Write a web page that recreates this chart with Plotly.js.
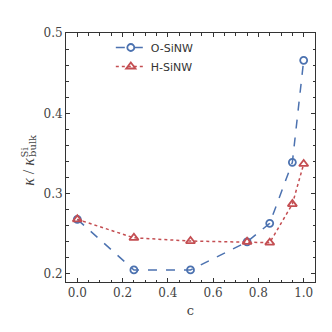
<!DOCTYPE html>
<html>
<head>
<meta charset="utf-8">
<script src="https://cdn.plot.ly/plotly-3.0.1.min.js"></script>
<style>
body { margin: 0; padding: 0; background: #fff; }
#grafico { width: 332px; height: 332px; }
</style>
</head>
<body>
<div id="grafico"></div>
<script>
var fraccion = [0.0, 0.25, 0.5, 0.75, 0.85, 0.95, 1.0];
var kappaO = [0.268, 0.205, 0.205, 0.240, 0.263, 0.339, 0.466];
var kappaH = [0.268, 0.245, 0.241, 0.240, 0.239, 0.287, 0.337];
var nombres = ["O-SiNW", "H-SiNW"];

var azul = "#4C72B0";
var rojo = "#C44E52";
var serif = "DejaVu Serif, Liberation Serif, serif";

var data = [{
	x: fraccion,
	y: kappaO,
	name: nombres[0],
	type: "scatter",
	mode: "lines+markers",
	line: { color: azul, width: 1.5, dash: "dash" },
	marker: { symbol: "circle-open", size: 7, color: azul, line: { width: 1.8, color: azul } }
}, {
	x: fraccion,
	y: kappaH,
	name: nombres[1],
	type: "scatter",
	mode: "lines+markers",
	line: { color: rojo, width: 1.5, dash: "dot" },
	marker: { symbol: "triangle-up-open", size: 8, color: rojo, line: { width: 1.8, color: rojo } }
}];

var ejeComun = {
	showgrid: false,
	zeroline: false,
	showline: true,
	linecolor: "#333",
	linewidth: 1,
	mirror: "allticks",
	ticks: "inside",
	ticklen: 4,
	tickwidth: 1,
	tickcolor: "#333",
	tickfont: { family: serif, size: 12, color: "#444" }
};

var layout = {
	width: 332,
	height: 332,
	margin: { l: 66, r: 17, t: 33, b: 50 },
	paper_bgcolor: "#fff",
	plot_bgcolor: "#fff",
	showlegend: true,
	legend: {
		x: 0.18, y: 1.0, xanchor: "left", yanchor: "top",
		bgcolor: "rgba(255,255,255,0)",
		font: { family: "DejaVu Sans, sans-serif", size: 11, color: "#333" },
		tracegroupgap: 2
	},
	xaxis: Object.assign({}, ejeComun, {
		range: [-0.05, 1.05],
		tickvals: [0, 0.2, 0.4, 0.6, 0.8, 1.0],
		ticktext: ["0.0", "0.2", "0.4", "0.6", "0.8", "1.0"],
		minor: { dtick: 0.05, tick0: 0, ticks: "inside", ticklen: 2.5, tickcolor: "#333" },
		title: { text: "c", font: { family: serif, size: 13, color: "#444" }, standoff: 6 }
	}),
	yaxis: Object.assign({}, ejeComun, {
		range: [0.19, 0.5],
		tickvals: [0.2, 0.3, 0.4, 0.5],
		ticktext: ["0.2", "0.3", "0.4", "0.5"],
		minor: { dtick: 0.02, tick0: 0.2, ticks: "inside", ticklen: 2.5, tickcolor: "#333" }
	}),
	annotations: [{
		xref: "paper", yref: "paper",
		x: -0.149, y: 0.442, xanchor: "center", yanchor: "middle",
		textangle: -90, showarrow: false,
		text: "<i>κ</i> / <i>κ</i>",
		font: { family: "Liberation Serif, serif", size: 16, color: "#444" }
	}, {
		xref: "paper", yref: "paper",
		x: -0.167, y: 0.522, xanchor: "center", yanchor: "middle",
		textangle: -90, showarrow: false,
		text: "Si",
		font: { family: serif, size: 10, color: "#444" }
	}, {
		xref: "paper", yref: "paper",
		x: -0.135, y: 0.548, xanchor: "center", yanchor: "middle",
		textangle: -90, showarrow: false,
		text: "bulk",
		font: { family: serif, size: 10, color: "#444" }
	}]
};

var config = { responsive: false, displayModeBar: false, staticPlot: true };

Plotly.newPlot("grafico", data, layout, config);
</script>
</body>
</html>
